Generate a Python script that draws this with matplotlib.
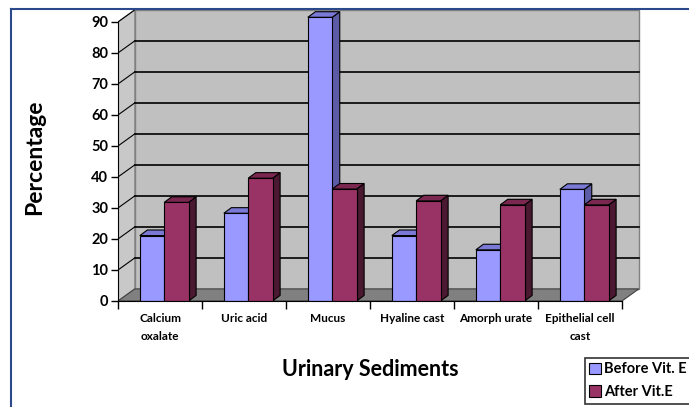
import matplotlib.pyplot as plt
from matplotlib.patches import Patch, Polygon
from matplotlib.lines import Line2D

plt.rcParams['font.family'] = ['Lato', 'DejaVu Sans']

categories = ['Calcium\noxalate', 'Uric acid', 'Mucus', 'Hyaline cast',
              'Amorph urate', 'Epithelial cell\ncast']
before = [21.1, 28.3, 91.5, 21.1, 16.5, 36]
after = [31.8, 39.6, 36.1, 32.3, 31, 31]
series_names = ['Before Vit. E', 'After Vit.E']

# fake 3d look: wall/floor offset and bar depth (data units)
WALL_DX, WALL_DY = 0.2, 3.9
BAR_DX, BAR_DY = 0.09, 1.8
BAR_W = 0.29

blue = ('#9999ff', '#5c5ca6', '#7a7ad6')   # front, side, top
red = ('#993366', '#4a1830', '#7a2850')


def draw_bar(ax, x0, v, cols):
    x1 = x0 + BAR_W
    side = [(x1, 0), (x1 + BAR_DX, BAR_DY), (x1 + BAR_DX, v + BAR_DY), (x1, v)]
    top = [(x0, v), (x0 + BAR_DX, v + BAR_DY), (x1 + BAR_DX, v + BAR_DY), (x1, v)]
    front = [(x0, 0), (x1, 0), (x1, v), (x0, v)]
    for pts, c in ((side, cols[1]), (top, cols[2]), (front, cols[0])):
        ax.add_patch(Polygon(pts, closed=True, facecolor=c, edgecolor='black',
                             lw=0.8, zorder=5))


fig = plt.figure(figsize=(6.89, 4.07), dpi=100)
ax = fig.add_axes([118 / 689, 106 / 407, 527 / 689, 293 / 407])
n = len(categories)
ax.set_xlim(-0.5, -0.5 + 527 / 84)
ax.set_ylim(0, 94.5)

# walls and floor
x_left, x_right = -0.5, n - 0.5
ax.add_patch(Polygon([(x_left + WALL_DX, WALL_DY), (x_right + WALL_DX, WALL_DY),
                      (x_right + WALL_DX, 90 + WALL_DY), (x_left + WALL_DX, 90 + WALL_DY)],
                     facecolor='#c0c0c0', edgecolor='#808080', lw=1, zorder=1))
ax.add_patch(Polygon([(x_left, 0), (x_left + WALL_DX, WALL_DY),
                      (x_left + WALL_DX, 90 + WALL_DY), (x_left, 90)],
                     facecolor='#c8c8c8', edgecolor='#808080', lw=0.8, zorder=1))
ax.add_patch(Polygon([(x_left, 0), (x_right, 0), (x_right + WALL_DX, WALL_DY),
                      (x_left + WALL_DX, WALL_DY)],
                     facecolor='#808080', edgecolor='#404040', lw=0.8, zorder=2))
for v in range(10, 90, 10):
    ax.plot([x_left + WALL_DX, x_right + WALL_DX], [v + WALL_DY] * 2,
            color='black', lw=1.2, zorder=2)
for v in range(10, 100, 10):
    ax.plot([x_left, x_left + WALL_DX], [v, v + WALL_DY], color='black', lw=0.8, zorder=2)

for i in range(n):
    draw_bar(ax, i - 0.24, before[i], blue)
    draw_bar(ax, i - 0.24 + BAR_W, after[i], red)

# axes
for s in ('top', 'right'):
    ax.spines[s].set_visible(False)
ax.spines['left'].set_bounds(0, 90)
ax.spines['bottom'].set_bounds(x_left, x_right)
ax.spines['left'].set_zorder(6)
ax.spines['bottom'].set_zorder(6)
ax.set_yticks(range(0, 100, 10))
ax.tick_params(axis='y', direction='out', length=5, width=1, pad=2, labelsize=10.5)
for t in ax.get_yticklabels():
    t.set_fontweight('bold')
ax.set_xticks([i - 0.5 for i in range(n + 1)])
ax.set_xticklabels([])
ax.set_xticks(range(n), minor=True)
ax.set_xticklabels(categories, minor=True, fontsize=8.5, fontweight='bold',
                   linespacing=1.75, va='top')
ax.tick_params(axis='x', which='major', direction='out', length=6, width=1)
ax.tick_params(axis='x', which='minor', length=0, pad=9)

fig.text(35 / 689, 1 - 157 / 407, 'Percentage', rotation=90, ha='center', va='center',
         fontsize=16.5, fontweight='bold')
fig.text(370 / 689, 1 - 370 / 407, 'Urinary Sediments', ha='center', va='center',
         fontsize=15.5, fontweight='bold')

# chart border (cropped)
fig.add_artist(Line2D([11 / 689, 11 / 689], [0, 1 - 9 / 407], color='#2b4a8c', lw=1.5))
fig.add_artist(Line2D([11 / 689, 1], [1 - 9 / 407] * 2, color='#2b4a8c', lw=1.5))

handles = [Patch(facecolor=blue[0], edgecolor='black', lw=0.8),
           Patch(facecolor=red[0], edgecolor='black', lw=0.8)]
leg = fig.legend(handles, series_names, loc='upper left',
                 bbox_to_anchor=(585 / 689, 1 - 358 / 407), frameon=True, fancybox=False,
                 edgecolor='black', borderpad=0.3, handlelength=0.8, handleheight=0.8,
                 handletextpad=0.2, labelspacing=0.6, borderaxespad=0,
                 prop={'size': 10.5, 'weight': 'bold'})
leg.get_frame().set_linewidth(1.2)

fig.savefig('out.png', dpi=100)
